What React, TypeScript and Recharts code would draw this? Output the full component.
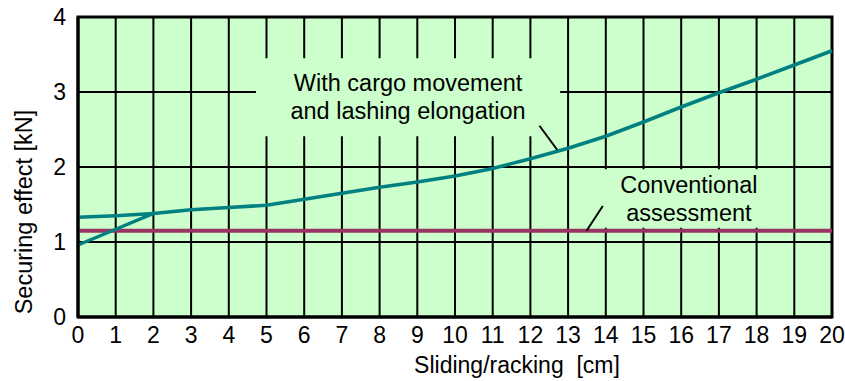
import { LineChart, Line, XAxis, YAxis, CartesianGrid, ReferenceArea, ReferenceLine } from 'recharts';

// sliding / racking in cm
const sliding = [0, 1, 2, 3, 4, 5, 6, 7, 8, 9, 10, 11, 12, 13, 14, 15, 16, 17, 18, 19, 20];
// securing effect with cargo movement and lashing elongation, kN
const withMovement = [0.96, 1.17, 1.38, 1.43, 1.46, 1.49, 1.57, 1.65, 1.73, 1.8, 1.88, 1.98, 2.11, 2.25, 2.41, 2.6, 2.8, 2.99, 3.17, 3.36, 3.55];
// second branch at the start of the curve
const startBranch = [1.33, 1.35, 1.38];
// conventional assessment, kN
const CONVENTIONAL = 1.15;

const xTicks = sliding;
const yTicks = [0, 1, 2, 3, 4];

const FONT = "'Liberation Sans', Arial, sans-serif";
const BG = '#ccffcc';
const TEAL = '#008080';
const MAGENTA = '#993366';

const data = sliding.map((x, i) => ({
  x,
  movement: withMovement[i],
  start: i < startBranch.length ? startBranch[i] : null,
}));

const twoLineLabel = (top: string, bottom: string) => (props: any) => {
  const { x, y, width, height } = props.viewBox;
  const cx = x + width / 2;
  const cy = y + height / 2;
  return (
    <text x={cx} y={cy} textAnchor='middle' fontSize={23.5} fontFamily={FONT} fill='#000'>
      <tspan x={cx} dy={-6}>{top}</tspan>
      <tspan x={cx} dy={28}>{bottom}</tspan>
    </text>
  );
};

const XLabel = (props: any) => {
  const { x, y, width } = props.viewBox;
  return (
    <text x={x + width / 2 + 62} y={y + 56} textAnchor='middle' fontSize={23} fontFamily={FONT} fill='#000' style={{ whiteSpace: 'pre' }}>
      {'Sliding/racking  [cm]'}
    </text>
  );
};

const YLabel = () => (
  <text x={24} y={212} transform='rotate(-90 24 212)' textAnchor='middle' dominantBaseline='central' fontSize={23.5} fontFamily={FONT} fill='#000'>
    Securing effect [kN]
  </text>
);

const tickStyle = { fontSize: 23, fontFamily: FONT, fill: '#000' };

export default function App() {
  return (
    <div style={{ width: 845, height: 381 }}>
      <style>{'body{margin:0}'}</style>
      <LineChart width={845} height={381} data={data} margin={{ top: 17, right: 13, left: 0, bottom: 0 }}>
        <CartesianGrid stroke='#000' strokeWidth={2} strokeOpacity={1} fill={BG} fillOpacity={1} />
        <XAxis
          dataKey='x'
          type='number'
          domain={[0, 20]}
          ticks={xTicks}
          interval={0}
          height={64}
          tickLine={false}
          tickSize={0}
          tickMargin={10}
          tick={tickStyle}
          axisLine={{ stroke: '#000', strokeWidth: 3 }}
          label={<XLabel />}
        />
        <YAxis
          type='number'
          domain={[0, 4]}
          ticks={yTicks}
          width={78}
          tickLine={false}
          tickSize={0}
          tickMargin={12}
          tick={tickStyle}
          axisLine={{ stroke: '#000', strokeWidth: 3 }}
          label={<YLabel />}
        />
        {/* plot frame */}
        <ReferenceArea x1={0} x2={20} y1={0} y2={4} fill='none' stroke='#000' strokeWidth={3} />
        {/* label boxes hide the grid behind the text */}
        <ReferenceArea
          x1={4.72}
          x2={12.79}
          y1={2.41}
          y2={3.45}
          fill={BG}
          fillOpacity={1}
          stroke='none'
          label={twoLineLabel('With cargo movement', 'and lashing elongation')}
        />
        <ReferenceArea
          x1={13.58}
          x2={18.83}
          y1={1.19}
          y2={1.97}
          fill={BG}
          fillOpacity={1}
          stroke='none'
          label={twoLineLabel('Conventional', 'assessment')}
        />
        <ReferenceLine y={CONVENTIONAL} stroke={MAGENTA} strokeWidth={4} />
        <Line type='linear' dataKey='start' stroke={TEAL} strokeWidth={3.5} dot={false} isAnimationActive={false} connectNulls={false} />
        <Line type='linear' dataKey='movement' stroke={TEAL} strokeWidth={3.5} dot={false} isAnimationActive={false} />
        {/* leader lines from the texts to their curves */}
        <ReferenceLine segment={[{ x: 12.24, y: 2.55 }, { x: 12.71, y: 2.23 }]} stroke='#000' strokeWidth={2} />
        <ReferenceLine segment={[{ x: 13.92, y: 1.48 }, { x: 13.49, y: CONVENTIONAL }]} stroke='#000' strokeWidth={2} />
      </LineChart>
    </div>
  );
}
